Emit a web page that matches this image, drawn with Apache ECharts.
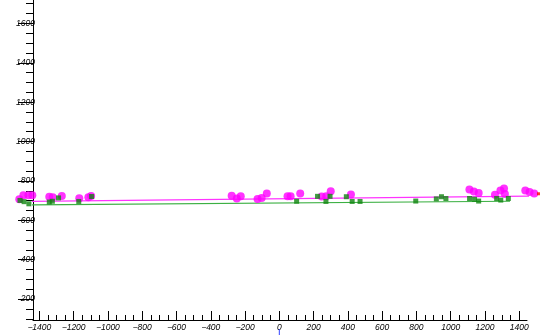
<!DOCTYPE html>
<html><head><meta charset="utf-8">
<script src="https://cdn.jsdelivr.net/npm/echarts@6/dist/echarts.min.js"></script>
<style>html,body{margin:0;padding:0;background:#fff}#c{width:546px;height:335px}</style>
</head><body><div id="c"></div>
<script>
// Tick labels
var xMajor = [-1400,-1200,-1000,-800,-600,-400,-200,0,200,400,600,800,1000,1200,1400];
var yMajor = [200,400,600,800,1000,1200,1400,1600];
var xRange = [-1437, 1445];
var yRange = [94, 1719];

// Magenta points [x, y]
var magentaPts = [
  [-1517,707],[-1493,727],[-1464,727],[-1441,727],
  [-1342,720],[-1322,717],[-1269,724],
  [-1167,712],[-1114,717],[-1098,724],
  [-278,725],[-248,711],[-225,723],
  [-127,708],[-103,713],[-73,736],
  [48,722],[66,722],[122,736],
  [247,721],[274,723],[300,748],[418,731],
  [1109,757],[1135,746],[1163,739],
  [1258,730],[1290,752],[1311,762],[1316,734],
  [1435,752],[1460,744],[1487,736]
];
// Green points [x, y]
var greenPts = [
  [-1513,701],[-1489,695],[-1461,684],
  [-1342,693],[-1324,697],[-1288,714],
  [-1170,696],[-1095,721],
  [101,697],[223,722],[272,696],[296,722],
  [391,720],[425,696],[471,696],
  [796,698],[916,709],[946,720],[972,711],
  [1110,711],[1139,707],[1163,698],
  [1268,711],[1292,703],[1336,711]
];
// Fit lines
var magentaLine = [[-1542,695],[1521,724]];
var greenLine = [[-1536,678],[1346,697]];
// Extra marks
var redPts = [[1512,735]];
var blueMark = [[0,-20],[0,48]];

function minorTicks(a, b, step){ var r=[]; for (var v=a; v<=b; v+=step) r.push(v); return r; }
var xMinor = minorTicks(-1400, 1400, 50);
var yMinor = minorTicks(100, 1700, 50);

var labelFont = {fontFamily:'Liberation Sans', fontStyle:'italic', fontSize:8.5, color:'#000'};
function fmt(v){ return String(v).replace('-', '\u2212'); }

var chart = echarts.init(document.getElementById('c'), null, {renderer:'canvas'});
chart.setOption({
  animation:false,
  backgroundColor:'#fff',
  grid:{left:33, right:19, top:0, bottom:15, containLabel:false},
  xAxis:[{
    type:'value', min:xRange[0], max:xRange[1], position:'bottom',
    axisLine:{onZero:false, lineStyle:{color:'#000', width:1}},
    axisTick:{show:true, inside:true, length:9, customValues:xMajor, lineStyle:{color:'#000'}},
    axisLabel:Object.assign({show:true, margin:3, customValues:xMajor, formatter:fmt}, labelFont),
    splitLine:{show:false}
  },{
    type:'value', min:xRange[0], max:xRange[1], position:'bottom',
    axisLine:{show:false, onZero:false},
    axisTick:{show:true, inside:true, length:5, customValues:xMinor, lineStyle:{color:'#000'}},
    axisLabel:{show:false}, splitLine:{show:false}
  }],
  yAxis:[{
    type:'value', min:yRange[0], max:yRange[1], position:'left',
    axisLine:{show:true, onZero:false, lineStyle:{color:'#000', width:1}},
    axisTick:{show:true, inside:false, length:15, customValues:yMajor, lineStyle:{color:'#000'}},
    axisLabel:Object.assign({show:true, margin:-2, customValues:yMajor, formatter:fmt}, labelFont),
    splitLine:{show:false}
  },{
    type:'value', min:yRange[0], max:yRange[1], position:'left',
    axisLine:{show:false, onZero:false},
    axisTick:{show:true, inside:false, length:7, customValues:yMinor, lineStyle:{color:'#000'}},
    axisLabel:{show:false}, splitLine:{show:false}
  }],
  series:[
    {type:'line', data:greenLine, showSymbol:false, clip:false, lineStyle:{color:'#3cb043', width:1.2}, z:2},
    {type:'line', data:magentaLine, showSymbol:false, clip:false, lineStyle:{color:'#ff33ff', width:1.2}, z:2},
    {type:'line', data:blueMark, showSymbol:false, clip:false, lineStyle:{color:'#3344ff', width:1}, z:2},
    {type:'scatter', data:magentaPts, symbol:'circle', symbolSize:8, clip:false, itemStyle:{color:'#ff00ff'}, z:3},
    {type:'scatter', data:greenPts, symbol:'rect', symbolSize:5, clip:false, itemStyle:{color:'#0f850f'}, z:4},
    {type:'scatter', data:redPts, symbol:'rect', symbolSize:3, clip:false, itemStyle:{color:'#ff0000'}, z:4}
  ]
});
</script>
</body></html>
